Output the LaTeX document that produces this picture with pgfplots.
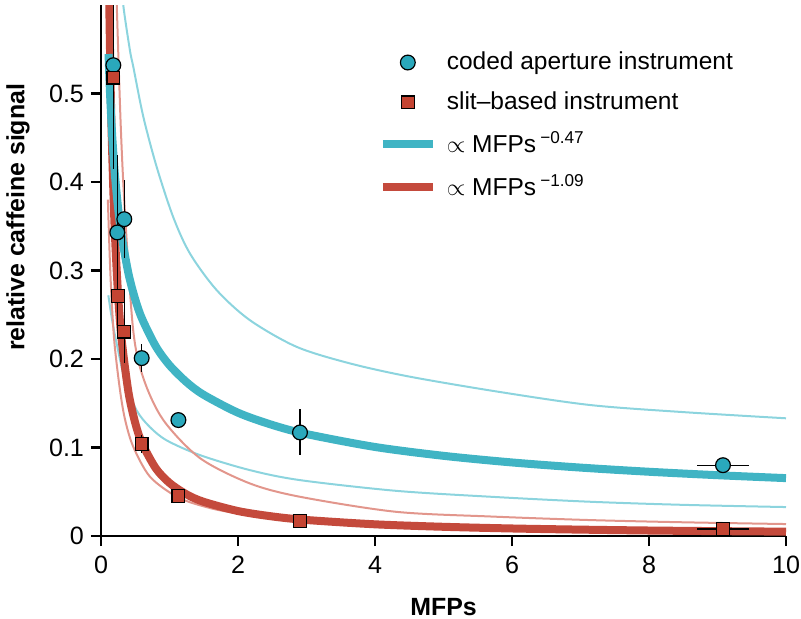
\documentclass[border=0pt]{standalone}
\usepackage{pgfplots}
\pgfplotsset{compat=1.18}
\usepackage{fontspec}
\setmainfont{Liberation Sans}
\definecolor{cyanL}{RGB}{64,180,196}
\definecolor{cyanT}{RGB}{140,212,222}
\definecolor{cyanM}{RGB}{42,168,188}
\definecolor{redL}{RGB}{196,74,60}
\definecolor{redT}{RGB}{226,150,140}
\definecolor{redM}{RGB}{196,68,50}
\begin{document}
\begin{tikzpicture}
\begin{axis}[
  scale only axis, width=342.5bp, height=265.5bp,
  at={(0,0)}, anchor=south west,
  xmin=0, xmax=10, ymin=0, ymax=0.6,
  axis x line*=bottom, axis y line*=left,
  axis line style={-, line width=1.2bp},
  tick align=outside, major tick length=5bp,
  tick style={line width=1.2bp, black},
  xtick={0,2,4,6,8,10}, ytick={0,0.1,0.2,0.3,0.4,0.5},
  /pgf/number format/assume math mode=true,
  tick label style={font=\fontsize{12.6}{15}\selectfont},
  xticklabel style={yshift=-1.5bp},
  yticklabel style={/pgf/number format/fixed, /pgf/number format/precision=1},
  xlabel={\textbf{MFPs}},
  ylabel={\textbf{relative caffeine signal}},
  label style={font=\fontsize{12.5}{15}\selectfont},
  xlabel style={at={(axis description cs:0.5,-0.1337)}, anchor=center},
  ylabel style={at={(axis description cs:-0.1212,0.60)}, anchor=center},
  legend image code/.code={\draw[mark repeat=2,mark phase=2,#1] plot coordinates {(0bp,0bp) (12.5bp,0bp) (25bp,0bp)};},
  legend style={draw=none, fill=none, at={(axis description cs:0.405,0.9195)}, anchor=north west,
    font=\fontsize{12.3}{14.5}\selectfont, row sep=5.6bp, column sep=3bp, inner sep=0pt},
  legend cell align=left,
]
\addlegendimage{only marks, mark=*, mark size=3.7bp, mark options={fill=cyanM, draw=black, line width=0.6bp}}
\addlegendentry{coded aperture instrument}
\addlegendimage{only marks, mark=square*, mark size=3.2bp, mark options={fill=redM, draw=black, line width=0.6bp}}
\addlegendentry{slit--based instrument}
\addlegendimage{cyanL, line width=4bp}
\addlegendentry{$\propto$ MFPs\,\textsuperscript{−0.47}}
\addlegendimage{redL, line width=4bp}
\addlegendentry{$\propto$ MFPs\,\textsuperscript{−1.09}}

% cyan band
\addplot[cyanT, line width=1bp, smooth, forget plot] coordinates {(0.29,0.64) (0.325,0.600) (0.423,0.5485) (0.472,0.530) (0.618,0.4737) (0.813,0.417) (1.056,0.360) (1.30,0.319) (1.69,0.2777) (2.175,0.2438) (2.857,0.2137) (3.635,0.195) (4.51,0.180) (5.8,0.163) (7.14,0.148) (8.5,0.140) (10,0.133)};
\addplot[cyanT, line width=1bp, smooth, forget plot] coordinates {(0.107,0.272) (0.16,0.245) (0.23,0.217) (0.35,0.176) (0.52,0.142) (0.715,0.123) (0.96,0.108) (1.445,0.0914) (2.17,0.0745) (2.9,0.0632) (4.3,0.0511) (5.7,0.0443) (7.14,0.0387) (8.5,0.0352) (10,0.0327)};
% red band
\addplot[redT, line width=1bp, smooth, forget plot] coordinates {(0.22,0.63) (0.23,0.6) (0.29,0.46) (0.35,0.365) (0.47,0.2325) (0.62,0.178) (0.91,0.131) (1.445,0.088) (2.17,0.0595) (2.9,0.0444) (4.3,0.0274) (5.7,0.0220) (7.14,0.018) (8.5,0.0155) (10,0.0135)};
\addplot[redT, line width=1bp, smooth, forget plot] coordinates {(0.1,0.38) (0.13,0.31) (0.16,0.26) (0.2,0.215) (0.277,0.165) (0.35,0.132) (0.47,0.101) (0.715,0.067) (1.105,0.0444) (1.5,0.0335) (1.93,0.0265) (2.9,0.0183) (4.36,0.0124) (5.7,0.0098) (7.14,0.0078) (8.5,0.0066) (10,0.0057)};
% red fit
\addplot[redL, line width=4bp, smooth, forget plot] coordinates {(0.115,0.634) (0.12,0.605) (0.14,0.5116) (0.16,0.4423) (0.2,0.3467) (0.25,0.2719) (0.3,0.2229) (0.4,0.1629) (0.5,0.1277) (0.6,0.1047) (0.8,0.0765) (1,0.06) (1.25,0.0470) (1.5,0.0386) (2,0.0282) (2.5,0.0221) (3,0.0181) (4,0.0132) (5,0.0104) (6,0.0085) (7,0.0072) (8,0.0062) (9,0.0055) (10,0.0049)};
% cyan fit
\addplot[cyanL, line width=4bp, smooth, forget plot] coordinates {(0.11,0.5446) (0.13,0.5035) (0.16,0.4567) (0.2,0.4112) (0.25,0.3703) (0.3,0.3399) (0.4,0.2969) (0.5,0.2673) (0.6,0.2454) (0.8,0.2143) (1,0.193) (1.25,0.1738) (1.5,0.1595) (2,0.1393) (2.5,0.1255) (3,0.1152) (4,0.1006) (5,0.0906) (6,0.0831) (7,0.0773) (8,0.0726) (9,0.0687) (10,0.0654)};

% data points
\addplot[only marks, mark=*, mark size=3.7bp, mark options={fill=cyanM, draw=black, line width=0.6bp}, forget plot] table {
x y
0.18 0.532
0.238 0.343
0.34 0.358
0.594 0.201
1.13 0.131
2.905 0.117
9.08 0.080
};
\addplot[only marks, mark=square*, mark size=3.2bp, mark options={fill=redM, draw=black, line width=0.6bp}, forget plot] table {
x y
0.18 0.518
0.244 0.271
0.34 0.231
0.594 0.104
1.13 0.045
2.905 0.017
9.08 0.008
};
% error bars
\addplot[draw=none, mark=none, forget plot, error bars/.cd, x dir=both, x explicit, y dir=both, y explicit, error mark=none, error bar style={line width=0.6bp, black, solid}] table[x=x, y=y, x error=ex, y error=ey] {
x y ex ey
0.18 0.532 0.1 0.008
0.238 0.343 0.1 0.088
0.34 0.358 0.1 0.044
0.594 0.201 0.1 0.016
1.13 0.131 0.1 0.008
2.905 0.117 0.1 0.026
9.08 0.080 0.38 0.008
};
\addplot[draw=none, mark=none, forget plot, error bars/.cd, x dir=both, x explicit, y dir=both, y explicit, error mark=none, error bar style={line width=0.6bp, black, solid}] table[x=x, y=y, x error=ex, y error=ey] {
x y ex ey
0.18 0.518 0.085 0.103
0.244 0.271 0.085 0.041
0.34 0.231 0.085 0.035
0.594 0.104 0.085 0.010
1.13 0.045 0.085 0.0068
2.905 0.017 0.085 0.0068
9.08 0.008 0.38 0.0068
};
\end{axis}
\pgfresetboundingbox
\useasboundingbox (-50.5bp,-41.5bp) rectangle (350bp,268bp);
\end{tikzpicture}
\end{document}
